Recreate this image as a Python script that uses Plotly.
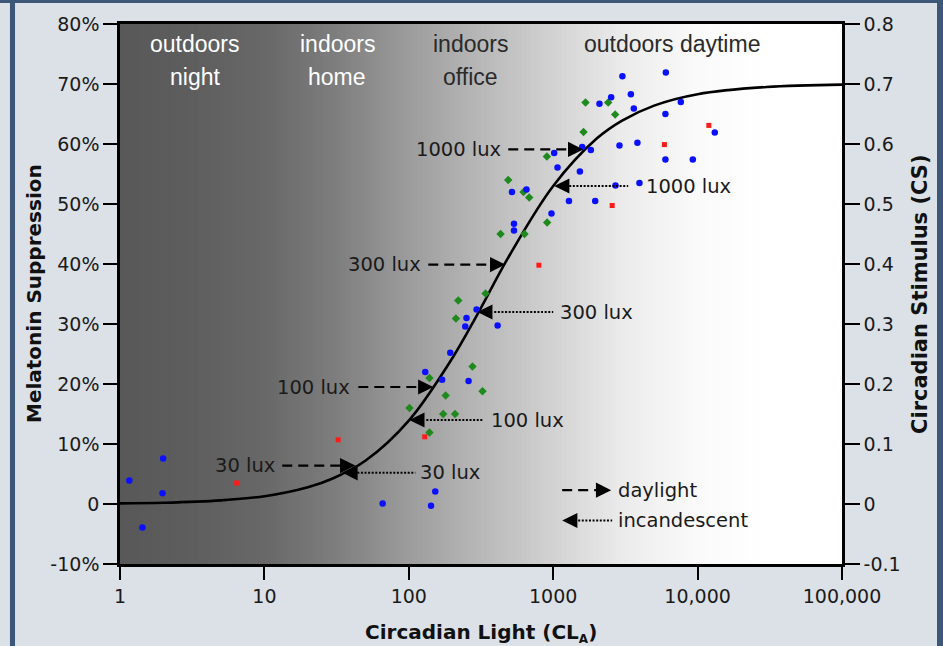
import math
import plotly.graph_objects as go

# ---------------- data ----------------
# model curve (Circadian Light -> Circadian Stimulus)
curve_cl = [1, 2, 5, 10, 20, 30, 50, 100, 200, 300, 500, 1000, 2000, 3000, 5000, 10000, 30000, 100000]
curve_cs = [0.001, 0.002, 0.006, 0.013, 0.028, 0.043, 0.072, 0.139, 0.243, 0.317, 0.415, 0.530,
            0.609, 0.639, 0.664, 0.683, 0.695, 0.699]

blue_cl = [1.16, 1.99, 1.97, 1.43, 65.9, 152.5, 142.5, 130, 170, 193.7, 246, 259.4, 294.6, 251, 412,
           535, 535, 518, 653, 973, 1285, 1953, 1071, 1530, 2700, 3957, 1016, 1588, 1823, 2877,
           3830, 5985, 9265, 13150, 5985, 7650, 3617, 3450, 2519, 2091, 3016, 6026]
blue_cs = [0.039, 0.076, 0.018, -0.039, 0.001, 0.021, -0.003, 0.220, 0.207, 0.252, 0.296, 0.205, 0.324,
           0.310, 0.2975, 0.467, 0.456, 0.520, 0.524, 0.484, 0.505, 0.505, 0.561, 0.554, 0.531, 0.535,
           0.585, 0.595, 0.590, 0.5975, 0.602, 0.574, 0.574, 0.619, 0.650, 0.670, 0.659, 0.683, 0.678,
           0.667, 0.713, 0.719]

green_cl = [1674, 2403, 2686, 1622, 904, 488, 623, 682, 908, 432, 633, 220, 340, 212, 276, 139, 180,
            324, 101, 173, 209, 139]
green_cs = [0.669, 0.669, 0.649, 0.620, 0.579, 0.540, 0.520, 0.511, 0.469, 0.450, 0.450, 0.339, 0.351,
            0.309, 0.229, 0.210, 0.181, 0.188, 0.160, 0.150, 0.150, 0.119]

red_cl = [6.43, 32.4, 129, 796, 2561, 5891, 11960]
red_cs = [0.035, 0.107, 0.112, 0.398, 0.4975, 0.599, 0.631]

x_tickvals = [1, 10, 100, 1000, 10000, 100000]
x_ticktext = ["1", "10", "100", "1000", "10,000", "100,000"]
y_tickvals = [-0.1, 0, 0.1, 0.2, 0.3, 0.4, 0.5, 0.6, 0.7, 0.8]
y_left_text = ["-10%", "0", "10%", "20%", "30%", "40%", "50%", "60%", "70%", "80%"]
y_right_text = ["-0.1", "0", "0.1", "0.2", "0.3", "0.4", "0.5", "0.6", "0.7", "0.8"]

# arrow annotations: (label, y, text edge CL, line start CL, line end CL, tip CL)
daylight_arrows = [
    ("30 lux", 0.064, 12.3, 13.3, 33.6, 42.6),
    ("100 lux", 0.195, 40.6, 44.7, 114.5, 147.8),
    ("300 lux", 0.399, 126, 136.4, 354.8, 465.4),
    ("1000 lux", 0.591, 450.7, 488.3, 1270, 1614),
]
incand_arrows = [
    ("30 lux", 0.052, 116.4, 44.0, 110.9, 34.7),
    ("100 lux", 0.140, 360.7, 132.2, 327.8, 100.8),
    ("300 lux", 0.320, 1083, 390.6, 1000, 297.9),
    ("1000 lux", 0.530, 4265, 1291, 3304, 1016),
]
legend_items = [
    ("daylight", 0.023, 2729, 1154, 2048, 2520),
    ("incandescent", -0.0275, 2729, 1489, 2560, 1154),
]
region_labels = [
    ("outdoors", "night", 3.33, "white"),
    ("indoors", "home", 32.0, "white"),
    ("indoors", "office", 266.5, "#2a2a2a"),
    ("outdoors daytime", "", 6662, "#2a2a2a"),
]

# ---------------- figure ----------------
TICK_FONT = dict(family="DejaVu Sans", size=19, color="#1a1a1a")
LBL_FONT = dict(family="DejaVu Sans", size=19.5, color="#1a1a1a")

fig = go.Figure()

fig.add_trace(go.Scatter(x=curve_cl, y=curve_cs, mode="lines", line=dict(color="black", width=2.6, shape="spline"),
                         hoverinfo="skip", showlegend=False))
fig.add_trace(go.Scatter(x=green_cl, y=green_cs, mode="markers",
                         marker=dict(symbol="diamond", size=6.5, color="#1e8a1e"), showlegend=False))
fig.add_trace(go.Scatter(x=red_cl, y=red_cs, mode="markers",
                         marker=dict(symbol="square", size=5, color="#ff1a1a"), showlegend=False))
fig.add_trace(go.Scatter(x=blue_cl, y=blue_cs, mode="markers",
                         marker=dict(symbol="circle", size=6.5, color="#0a10ff"), showlegend=False))

# invisible trace for the right axis
fig.add_trace(go.Scatter(x=[1], y=[0], yaxis="y2", mode="markers", marker=dict(opacity=0),
                         hoverinfo="skip", showlegend=False))

annotations = []


def add_arrow(y, x0, x1, tip, kind, label, text_cl, text_side):
    dash = "10px,6px" if kind == "day" else "2px,1.6px"
    fig.add_trace(go.Scatter(x=[x0, x1], y=[y, y], mode="lines",
                             line=dict(color="black", width=2.2 if kind == "day" else 2.0, dash=dash),
                             hoverinfo="skip", showlegend=False))
    annotations.append(dict(x=math.log10(tip), y=y, xref="x", yref="y", text="", showarrow=True,
                            arrowhead=2, arrowsize=1.9, arrowwidth=1.6, arrowcolor="black",
                            ax=-14 if kind == "day" else 14, ay=0))
    annotations.append(dict(x=math.log10(text_cl), y=y, xref="x", yref="y", text=label, showarrow=False,
                            xanchor=text_side, yanchor="middle", font=LBL_FONT))


for lab, y, tcl, x0, x1, tip in daylight_arrows:
    add_arrow(y, x0, x1, tip, "day", lab, tcl, "right")
for lab, y, tcl, x0, x1, tip in incand_arrows:
    add_arrow(y, x0, x1, tip, "inc", lab, tcl, "left")
for i, (lab, y, tcl, x0, x1, tip) in enumerate(legend_items):
    add_arrow(y, x0, x1, tip, "day" if i == 0 else "inc", lab, tcl, "left")

for l1, l2, xc, col in region_labels:
    annotations.append(dict(x=math.log10(xc), y=0.766, xref="x", yref="y", text=l1, showarrow=False,
                            xanchor="center", yanchor="middle",
                            font=dict(family="Liberation Sans", size=23, color=col)))
    if l2:
        annotations.append(dict(x=math.log10(xc), y=0.7125, xref="x", yref="y", text=l2, showarrow=False,
                                xanchor="center", yanchor="middle",
                                font=dict(family="Liberation Sans", size=23, color=col)))

TITLE_FONT = dict(family="DejaVu Sans", size=20, color="#111111")
annotations += [
    dict(x=-0.1191, y=0.5, xref="paper", yref="paper", text="<b>Melatonin Suppression</b>", textangle=-90,
         showarrow=False, xanchor="center", yanchor="middle", font=TITLE_FONT),
    dict(x=1.108, y=0.5, xref="paper", yref="paper", text="<b>Circadian Stimulus (CS)</b>", textangle=-90,
         showarrow=False, xanchor="center", yanchor="middle", font=dict(TITLE_FONT, size=21)),
    dict(x=0.5, y=-0.128, xref="paper", yref="paper",
         text="<b>Circadian Light (CL<sub><span style='font-size:12px'>A</span></sub>)</b>",
         showarrow=False, xanchor="center", yanchor="middle", font=TITLE_FONT),
]

# background gradient (style) and frame
stops = [(0.0, 88), (0.1, 94), (0.2, 104), (0.3, 126), (0.4, 156), (0.5, 184), (0.6, 210),
         (0.7, 236), (0.8, 250), (0.9, 255), (1.0, 255)]


def grey_at(t):
    for (a, ga), (b, gb) in zip(stops[:-1], stops[1:]):
        if a <= t <= b:
            g = ga + (gb - ga) * (t - a) / (b - a)
            return int(round(g))
    return 255


shapes = []
N = 160
for i in range(N):
    t0, t1 = i / N, (i + 1) / N
    g = grey_at((t0 + t1) / 2)
    shapes.append(dict(type="rect", xref="x domain", yref="y domain", x0=t0, x1=t1 + 0.002, y0=0, y1=1,
                       fillcolor=f"rgb({g},{g},{g})", line=dict(width=0), layer="below"))

FRAME = "#3c5778"
shapes += [
    dict(type="rect", xref="paper", yref="paper", x0=-0.3, x1=1.3, y0=1.0389, y1=1.2,
         fillcolor=FRAME, line=dict(width=0), layer="below"),
    dict(type="rect", xref="paper", yref="paper", x0=-0.1524, x1=-0.1454, y0=-0.3, y1=1.2,
         fillcolor=FRAME, line=dict(width=0), layer="below"),
    dict(type="rect", xref="paper", yref="paper", x0=1.1316, x1=1.3, y0=-0.3, y1=1.2,
         fillcolor=FRAME, line=dict(width=0), layer="below"),
]

fig.update_layout(
    width=943, height=646,
    margin=dict(l=120, r=101, t=24, b=82),
    paper_bgcolor="#dce1e7",
    plot_bgcolor="white",
    showlegend=False,
    xaxis=dict(type="log", range=[0, 5], tickvals=x_tickvals, ticktext=x_ticktext,
               showgrid=False, zeroline=False, showline=True, linecolor="black", linewidth=2.5,
               mirror=True, ticks="outside", ticklen=13, tickwidth=1.5, tickcolor="black",
               tickfont=TICK_FONT),
    yaxis=dict(range=[-0.1, 0.8], tickvals=y_tickvals, ticktext=y_left_text,
               showgrid=False, zeroline=False, showline=True, linecolor="black", linewidth=2.5,
               ticks="outside", ticklen=14, tickwidth=1.5, tickcolor="black", tickfont=TICK_FONT),
    yaxis2=dict(range=[-0.1, 0.8], tickvals=y_tickvals, ticktext=y_right_text, overlaying="y", side="right",
                showgrid=False, zeroline=False, showline=True, linecolor="black", linewidth=2.5,
                ticks="outside", ticklen=15, tickwidth=1.5, tickcolor="black", tickfont=TICK_FONT),
    annotations=annotations,
    shapes=shapes,
)

fig.write_html("out.html", config={"displayModeBar": False},
               post_script="document.body.style.margin='0px';document.body.style.padding='0px';")
